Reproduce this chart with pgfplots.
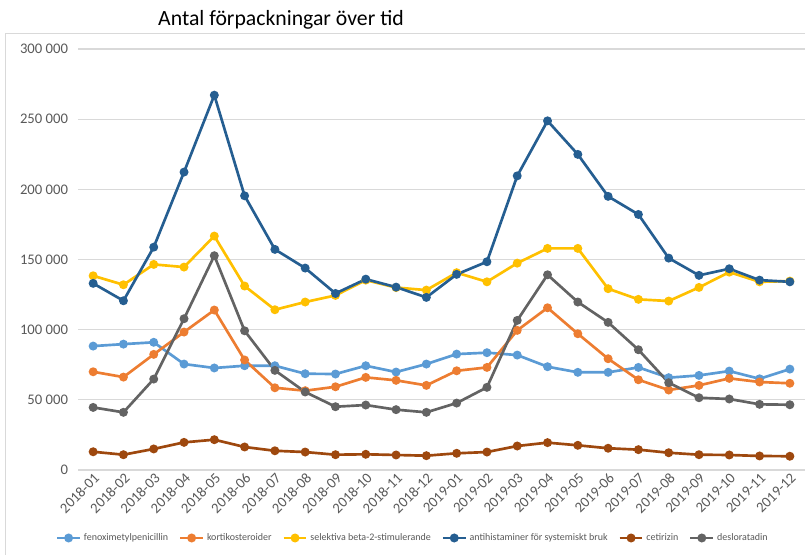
\documentclass[border=0pt]{standalone}
\usepackage{fontspec}
\setmainfont{Carlito}
\usepackage{pgfplots}
\usepackage{pgfplotstable}
\pgfplotsset{compat=1.18}
\definecolor{cA}{HTML}{5B9BD5}
\definecolor{cB}{HTML}{ED7D31}
\definecolor{cC}{HTML}{FFC000}
\definecolor{cD}{HTML}{255E91}
\definecolor{cE}{HTML}{9E480E}
\definecolor{cF}{HTML}{636363}
\definecolor{gridc}{HTML}{D9D9D9}
\definecolor{txt}{HTML}{595959}
\pgfplotstableread{
x a b c d e f
0 88300 70000 138400 133000 13000 44600
1 89700 66200 132000 120600 10900 41100
2 91000 82400 146500 158800 15000 64800
3 75500 98300 144600 212300 19700 107800
4 72700 114000 166700 267100 21600 152700
5 74300 78400 131100 195400 16400 99200
6 74300 58600 114200 157200 13700 71000
7 68600 56500 119700 143900 12800 55600
8 68400 59300 124400 125800 10900 45100
9 74300 66000 135300 136000 11200 46300
10 69800 63900 130000 130300 10700 43000
11 75500 60300 128200 123000 10200 41100
12 82600 70700 140600 139400 11900 47700
13 83600 73100 134100 148400 12800 58900
14 81900 99500 147400 209600 17100 106600
15 73600 115600 157900 248800 19500 139100
16 69600 97100 157900 224900 17600 119700
17 69600 79300 129200 195000 15500 105200
18 73100 64300 121600 182100 14500 85700
19 65800 57000 120400 151000 12300 62200
20 67400 60300 130100 138700 10900 51500
21 70500 65300 141000 143400 10700 50600
22 65000 62700 134100 135300 10000 46800
23 71900 61800 134600 134100 9800 46500
}\data
\begin{document}
\begin{tikzpicture}
\useasboundingbox (0,0) rectangle (603.75pt,-416.25pt);
\draw[gridc, line width=0.75pt] (3.9pt,-25.2pt) rectangle (620pt,-430pt);
\node[font=\fontsize{16.3}{18}\selectfont, text=black] at (210.75pt,-15pt) {Antal förpackningar över tid};
\begin{axis}[
  at={(58.5pt,-352.5pt)}, anchor=south west,
  scale only axis, width=545.25pt, height=315.75pt,
  xmin=-0.5, xmax=23.5, ymin=0, ymax=300000,
  axis line style={draw=none},
  major tick length=0pt,
  ymajorgrids, grid style={gridc, line width=0.9pt},
  ytick={0,50000,100000,150000,200000,250000,300000},
  yticklabels={0,50 000,100 000,150 000,200 000,250 000,300 000},
  scaled y ticks=false,
  xtick={0,...,23},
  xticklabels={2018-01,2018-02,2018-03,2018-04,2018-05,2018-06,2018-07,2018-08,2018-09,2018-10,2018-11,2018-12,2019-01,2019-02,2019-03,2019-04,2019-05,2019-06,2019-07,2019-08,2019-09,2019-10,2019-11,2019-12},
  ticklabel style={font=\fontsize{11}{13}\selectfont, text=txt},
  xticklabel style={rotate=45, anchor=north east, inner sep=1pt},
  yticklabel style={xshift=-4pt},
  every axis plot/.append style={line width=2pt, mark=*, mark size=2.3pt, mark options={solid}},
  legend style={at={(0.461,-0.1615)}, anchor=center, draw=none, font=\fontsize{7.5}{9}\selectfont, text=txt, legend columns=6, /tikz/every even column/.append style={column sep=6pt}},
  legend cell align=left,
]
\addplot[cA, mark options={fill=cA}] table[x=x,y=a]{\data};
\addlegendentry{fenoximetylpenicillin}
\addplot[cB, mark options={fill=cB}] table[x=x,y=b]{\data};
\addlegendentry{kortikosteroider}
\addplot[cC, mark options={fill=cC}] table[x=x,y=c]{\data};
\addlegendentry{selektiva beta-2-stimulerande}
\addplot[cD, mark options={fill=cD}] table[x=x,y=d]{\data};
\addlegendentry{antihistaminer för systemiskt bruk}
\addplot[cE, mark options={fill=cE}] table[x=x,y=e]{\data};
\addlegendentry{cetirizin}
\addplot[cF, mark options={fill=cF}] table[x=x,y=f]{\data};
\addlegendentry{desloratadin}
\end{axis}
\end{tikzpicture}
\end{document}
